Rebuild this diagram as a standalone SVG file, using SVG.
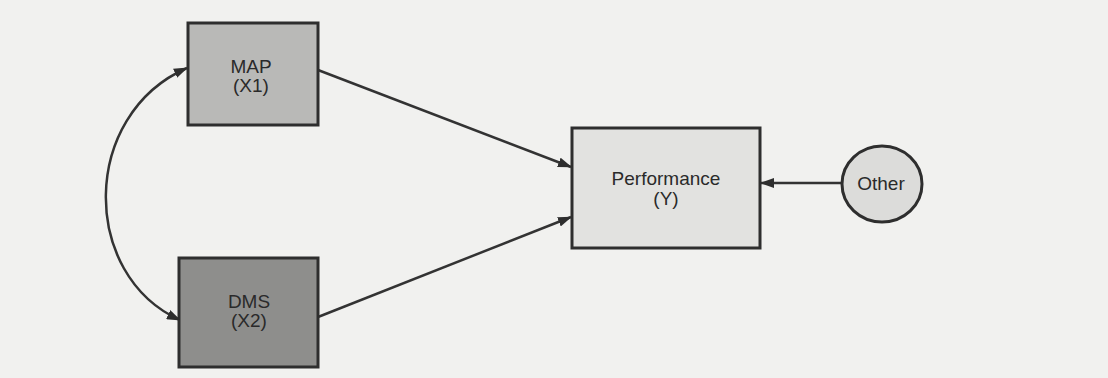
<svg xmlns="http://www.w3.org/2000/svg" width="1108" height="378" viewBox="0 0 1108 378">
<defs>
<style>
.box{stroke:#2e2e2e;stroke-width:3}
.lbl{font-family:"Liberation Sans",Arial,sans-serif;font-size:19px;fill:#2a2a2a;text-anchor:middle}
.edge{fill:none;stroke:#333;stroke-width:2.5}
</style>
<marker id="ah" viewBox="0 0 14 10" refX="13" refY="5" markerWidth="14" markerHeight="10" markerUnits="userSpaceOnUse" orient="auto-start-reverse">
<path d="M0,0 L14,5 L0,10 Z" fill="#2e2e2e"/>
</marker>
</defs>
<rect width="1108" height="378" fill="#f1f1ef"/>
<g id="connectors">
<path class="edge" d="M187,68 C80,115 80,275 180,320" marker-start="url(#ah)" marker-end="url(#ah)"/>
<line class="edge" x1="318" y1="70" x2="571" y2="167" marker-end="url(#ah)"/>
<line class="edge" x1="318" y1="317" x2="571" y2="217" marker-end="url(#ah)"/>
<line class="edge" x1="842" y1="183" x2="761" y2="183" marker-end="url(#ah)"/>
</g>
<g id="map">
<rect class="box" x="188" y="23" width="130" height="102" fill="#b9b9b7"/>
<text class="lbl" x="251" y="73">MAP</text>
<text class="lbl" x="251" y="92">(X1)</text>
</g>
<g id="dms">
<rect class="box" x="179" y="258" width="139" height="109" fill="#8e8e8c"/>
<text class="lbl" x="249" y="308">DMS</text>
<text class="lbl" x="249" y="327">(X2)</text>
</g>
<g id="performance">
<rect class="box" x="572" y="128" width="188" height="120" fill="#e2e2e0"/>
<text class="lbl" x="666" y="185">Performance</text>
<text class="lbl" x="666" y="205">(Y)</text>
</g>
<g id="other">
<ellipse class="box" cx="882" cy="184" rx="40" ry="38" fill="#dcdcda"/>
<text class="lbl" x="881" y="190">Other</text>
</g>
</svg>
